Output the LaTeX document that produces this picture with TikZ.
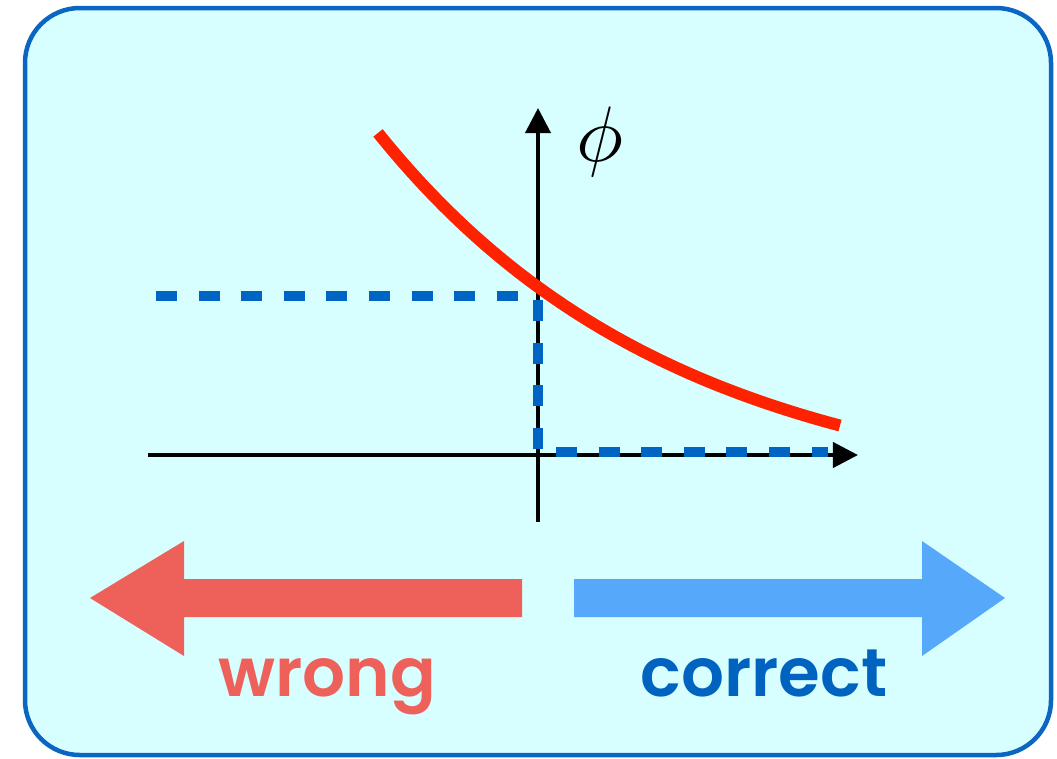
\documentclass[tikz,border=0pt]{standalone}
\usepackage{fontspec}
\usepackage{amsmath}
\newfontfamily\labelfont{Poppins}[BoldFont={Poppins SemiBold}]
\usetikzlibrary{arrows.meta}

\definecolor{panelfill}{HTML}{D7FFFF}
\definecolor{panelline}{HTML}{0A66C2}
\definecolor{curvered}{HTML}{FF2200}
\definecolor{guideblue}{HTML}{0064C4}
\definecolor{wrongred}{HTML}{EE605A}
\definecolor{rightblue}{HTML}{55A8FA}
\definecolor{textblue}{HTML}{0063C0}

\begin{document}
\begin{tikzpicture}[x=0.025cm, y=-0.025cm,
  axis/.style={line width=2.85pt, -{Triangle[width=17.8pt,length=17.8pt]}},
  guide/.style={guideblue, line width=7.1pt, dash pattern=on 14.9pt off 15.4pt},
  bigword/.style={anchor=base, inner sep=0pt, font=\labelfont\bfseries\fontsize{48}{52}\selectfont}]

\useasboundingbox (0,0) rectangle (1057,758);
\fill[white] (0,0) rectangle (1057,758);

% --- Parameters ---
\def\ox{538}
\def\oy{455}
% phi(x) = 218*exp(-0.00334 x) - 50, in pixel units above the axis

% --- Panel ---
\draw[panelline, fill=panelfill, line width=3.2pt, rounded corners=39pt]
      (25,8) rectangle (1051,755);

% --- Axes ---
\coordinate (xstart) at (148,\oy);
\coordinate (xend) at (858,\oy);
\coordinate (ystart) at (\ox,522);
\coordinate (yend) at (\ox,108);
\draw[axis] (xstart) -- (xend);
\draw[axis] (ystart) -- (yend);
\node[scale=5.6] (philabel) at (600,142) {$\phi$};

% --- Dashed guides ---
\draw[guide] (156,296) -- (\ox,296);
\draw[guide] (\ox,300) -- (\ox,\oy);
\draw[guide] (556,452) -- (828,452);

% --- Response curve ---
\draw[curvered, line width=8.5pt, domain=-160:302, smooth, samples=100]
      plot ({\ox+\x}, {\oy-(218*exp(-0.00334*\x)-50)});

% --- Direction arrows ---
\fill[wrongred] (522,579) -- (184,579) -- (184,541) -- (90,598)
      -- (184,656) -- (184,617) -- (522,617) -- cycle;
\fill[rightblue] (574,579) -- (922,579) -- (922,541) -- (1005,598)
      -- (922,656) -- (922,617) -- (574,617) -- cycle;

% Labels
\node[bigword, text=wrongred] (wrong) at (327.5,696) {wrong};
\node[bigword, text=textblue] (correct) at (764,696) {correct};

\end{tikzpicture}
\end{document}
